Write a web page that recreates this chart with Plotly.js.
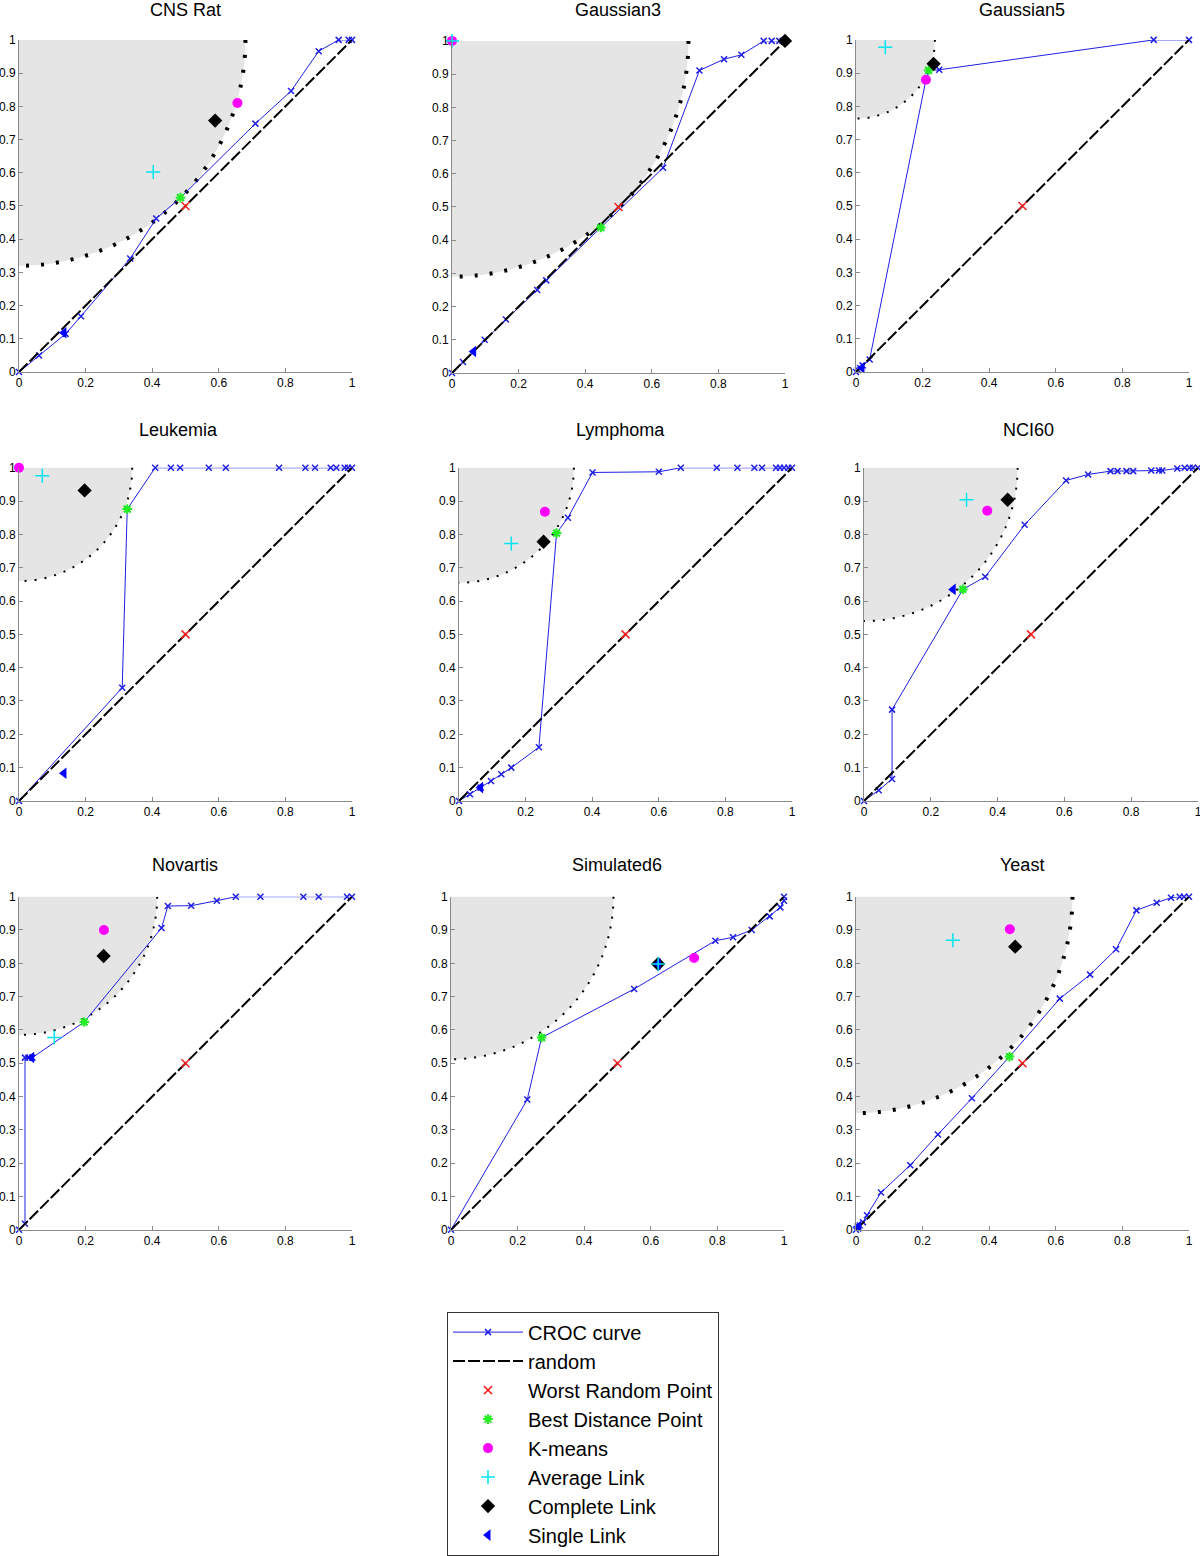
<!DOCTYPE html>
<html>
<head>
<meta charset="utf-8">
<script src="https://cdn.plot.ly/plotly-3.0.1.min.js"></script>
<style>html,body{margin:0;padding:0;background:#fff;}#chart{width:1200px;height:1556px;}</style>
</head>
<body>
<div id="chart"></div>
<script>
// ---- data ----
const titles = ["CNS Rat", "Gaussian3", "Gaussian5", "Leukemia", "Lymphoma", "NCI60", "Novartis", "Simulated6", "Yeast"];

const cnsRatCrocX = [0, 0.06, 0.14, 0.186, 0.334, 0.412, 0.485, 0.71, 0.817, 0.9, 0.96, 0.99, 1];
const cnsRatCrocY = [0, 0.05, 0.115, 0.168, 0.342, 0.462, 0.525, 0.748, 0.846, 0.966, 1, 1, 1];
const gaussian3CrocX = [0, 0.033, 0.098, 0.162, 0.256, 0.283, 0.447, 0.634, 0.743, 0.817, 0.869, 0.936, 0.96, 0.983, 0.993, 1];
const gaussian3CrocY = [0, 0.033, 0.1, 0.161, 0.25, 0.279, 0.438, 0.618, 0.911, 0.945, 0.958, 1, 1, 1, 1, 1];
const gaussian5CrocX = [0, 0.006, 0.012, 0.02, 0.041, 0.21, 0.218, 0.25, 0.894, 1];
const gaussian5CrocY = [0, 0.006, 0.012, 0.02, 0.038, 0.88, 0.908, 0.91, 1, 1];
const leukemiaCrocX = [0, 0.31, 0.325, 0.409, 0.456, 0.484, 0.57, 0.621, 0.781, 0.86, 0.889, 0.936, 0.953, 0.978, 0.988, 1];
const leukemiaCrocY = [0, 0.34, 0.876, 1, 1, 1, 1, 1, 1, 1, 1, 1, 1, 1, 1, 1];
const lymphomaCrocX = [0, 0.033, 0.065, 0.096, 0.127, 0.157, 0.24, 0.293, 0.327, 0.401, 0.6, 0.666, 0.774, 0.836, 0.887, 0.91, 0.952, 0.964, 0.976, 0.989, 1];
const lymphomaCrocY = [0, 0.02, 0.04, 0.06, 0.08, 0.1, 0.161, 0.804, 0.85, 0.986, 0.988, 1, 1, 1, 1, 1, 1, 1, 1, 1, 1];
const nci60CrocX = [0, 0.044, 0.084, 0.084, 0.296, 0.363, 0.481, 0.605, 0.671, 0.738, 0.759, 0.786, 0.806, 0.86, 0.883, 0.893, 0.938, 0.96, 0.975, 0.985, 1];
const nci60CrocY = [0, 0.032, 0.066, 0.274, 0.635, 0.673, 0.829, 0.962, 0.98, 0.99, 0.99, 0.99, 0.99, 0.992, 0.992, 0.992, 0.998, 1, 1, 1, 1];
const novartisCrocX = [0, 0.018, 0.018, 0.028, 0.04, 0.196, 0.428, 0.447, 0.517, 0.594, 0.651, 0.725, 0.854, 0.9, 0.985, 1];
const novartisCrocY = [0, 0.018, 0.517, 0.517, 0.517, 0.624, 0.906, 0.972, 0.973, 0.988, 1, 1, 1, 1, 1, 1];
const simulated6CrocX = [0, 0.229, 0.272, 0.55, 0.794, 0.847, 0.903, 0.957, 0.989, 1, 1];
const simulated6CrocY = [0, 0.391, 0.577, 0.723, 0.868, 0.878, 0.9, 0.941, 0.968, 0.988, 1];
const yeastCrocX = [0, 0.005, 0.011, 0.021, 0.033, 0.075, 0.163, 0.246, 0.348, 0.461, 0.612, 0.703, 0.781, 0.842, 0.903, 0.946, 0.972, 0.985, 1];
const yeastCrocY = [0, 0.01, 0.013, 0.023, 0.044, 0.112, 0.194, 0.286, 0.395, 0.52, 0.694, 0.766, 0.842, 0.959, 0.982, 0.997, 1, 1, 1];

const randomX = [0, 1];
const randomY = [0, 1];
const worstX = [0.5, 0.5, 0.5, 0.5, 0.5, 0.5, 0.5, 0.5, 0.5];
const worstY = [0.5, 0.5, 0.5, 0.5, 0.5, 0.5, 0.5, 0.5, 0.5];
const bestX = [0.485, 0.447, 0.218, 0.325, 0.293, 0.296, 0.196, 0.272, 0.461];
const bestY = [0.525, 0.438, 0.908, 0.876, 0.804, 0.635, 0.624, 0.577, 0.52];
const kmeansX = [0.656, 0, 0.21, 0, 0.258, 0.369, 0.255, 0.73, 0.462];
const kmeansY = [0.81, 1, 0.88, 1, 0.868, 0.871, 0.9, 0.816, 0.902];
const avgLinkX = [0.403, 0, 0.088, 0.07, 0.157, 0.307, 0.106, 0.622, 0.291];
const avgLinkY = [0.602, 1, 0.978, 0.976, 0.773, 0.904, 0.577, 0.798, 0.869];
const completeLinkX = [0.589, 1, 0.233, 0.197, 0.254, 0.43, 0.254, 0.622, 0.478];
const completeLinkY = [0.757, 1, 0.928, 0.932, 0.778, 0.904, 0.822, 0.798, 0.85];
const singleLinkX = [0.135, 0.065, 0.018, 0.135, 0.065, 0.267, 0.038, 0.622, 0.008];
const singleLinkY = [0.118, 0.065, 0.013, 0.083, 0.04, 0.635, 0.517, 0.798, 0.01];
const bestDistanceRadius = [0.68, 0.71, 0.237, 0.34, 0.345, 0.46, 0.415, 0.488, 0.65];

const xTicks = [0, 0.2, 0.4, 0.6, 0.8, 1];
const xTickLabels = ["0", "0.2", "0.4", "0.6", "0.8", "1"];
const yTicks = [0, 0.1, 0.2, 0.3, 0.4, 0.5, 0.6, 0.7, 0.8, 0.9, 1];
const yTickLabels = ["0", "0.1", "0.2", "0.3", "0.4", "0.5", "0.6", "0.7", "0.8", "0.9", "1"];

// ---- layout geometry (pixels) ----
const W = 1200, H = 1556;
const panelBoxes = [
  [19, 352, 40, 373], [452, 785, 41, 374], [856, 1189, 40, 373],
  [19, 352, 469, 803], [459, 792, 469, 803], [864, 1198, 469, 803],
  [19, 352, 899, 1233], [451, 784, 899, 1233], [856, 1189, 899, 1233]
];
const titleCenters = [[185, 10], [618, 10], [1022, 10], [178, 431], [620, 431], [1028, 431], [185, 867], [617, 867], [1022, 867]];
const thickDots = [true, true, false, false, false, false, false, false, true];

const crocX = [cnsRatCrocX, gaussian3CrocX, gaussian5CrocX, leukemiaCrocX, lymphomaCrocX, nci60CrocX, novartisCrocX, simulated6CrocX, yeastCrocX];
const crocY = [cnsRatCrocY, gaussian3CrocY, gaussian5CrocY, leukemiaCrocY, lymphomaCrocY, nci60CrocY, novartisCrocY, simulated6CrocY, yeastCrocY];

const FONT = "Liberation Sans, Arial, sans-serif";
const traces = [];
const layout = {
  width: W, height: H,
  margin: {l: 0, r: 0, t: 0, b: 0},
  paper_bgcolor: "#ffffff", plot_bgcolor: "rgba(0,0,0,0)",
  font: {family: FONT, color: "#000", size: 12},
  showlegend: true,
  legend: {
    x: 447 / W, y: 1 - 1315 / H, xanchor: "left", yanchor: "top",
    bgcolor: "#ffffff", bordercolor: "#333333", borderwidth: 1,
    font: {family: FONT, size: 20, color: "#000"},
    itemwidth: 70, tracegroupgap: 0, traceorder: "normal"
  },
  shapes: [], annotations: []
};

for (let i = 0; i < 9; i++) {
  const n = i === 0 ? "" : String(i + 1);
  const xa = "x" + n, ya = "y" + n;
  const b = panelBoxes[i];
  const axCommon = {
    range: [0, 1], showgrid: false, zeroline: false, showline: true,
    linecolor: "#8a8a8a", linewidth: 1, ticks: "inside", ticklen: 4, tickcolor: "#8a8a8a",
    tickfont: {family: FONT, size: 12, color: "#000"}, fixedrange: true,
    ticklabeloverflow: "allow"
  };
  layout["xaxis" + n] = Object.assign({}, axCommon, {
    domain: [b[0] / W, b[1] / W], anchor: ya,
    tickmode: "array", tickvals: xTicks, ticktext: xTickLabels
  });
  layout["yaxis" + n] = Object.assign({}, axCommon, {
    domain: [1 - b[3] / H, 1 - b[2] / H], anchor: xa,
    tickmode: "array", tickvals: yTicks, ticktext: yTickLabels
  });
  const r = bestDistanceRadius[i];
  layout.shapes.push({
    type: "circle", xref: xa, yref: ya, layer: "below",
    x0: -r, x1: r, y0: 1 - r, y1: 1 + r,
    fillcolor: "#e5e5e5",
    line: thickDots[i] ? {color: "#000", width: 4, dash: "3px,12px"} : {color: "#000", width: 2, dash: "2px,8px"}
  });
  layout.annotations.push({
    xref: "paper", yref: "paper", x: titleCenters[i][0] / W, y: 1 - titleCenters[i][1] / H,
    xanchor: "center", yanchor: "middle", showarrow: false,
    text: titles[i], font: {family: FONT, size: 18, color: "#000"}
  });
  const sl = i === 0;
  traces.push({
    type: "scatter", mode: "lines+markers", x: crocX[i], y: crocY[i], xaxis: xa, yaxis: ya,
    name: "CROC curve", showlegend: sl, legendrank: 1, cliponaxis: false,
    line: {color: "#1f1fe6", width: 1},
    marker: {symbol: "x-thin-open", size: 6, line: {color: "#1f1fe6", width: 1.5}}
  });
  traces.push({
    type: "scatter", mode: "lines", x: randomX, y: randomY, xaxis: xa, yaxis: ya,
    name: "random", showlegend: sl, legendrank: 2, cliponaxis: false,
    line: {color: "#000", width: 2, dash: "12px,3px"}
  });
  traces.push({
    type: "scatter", mode: "markers", x: [worstX[i]], y: [worstY[i]], xaxis: xa, yaxis: ya,
    name: "Worst Random Point", showlegend: sl, legendrank: 3, cliponaxis: false,
    marker: {symbol: "x-thin-open", size: 8, color: "#ff2020", line: {color: "#ff2020", width: 1.5}}
  });
  traces.push({
    type: "scatter", mode: "markers", x: [bestX[i]], y: [bestY[i]], xaxis: xa, yaxis: ya,
    name: "Best Distance Point", showlegend: sl, legendrank: 4, cliponaxis: false,
    marker: {symbol: "asterisk-open", size: 8, color: "#22ee22", line: {color: "#22ee22", width: 2}}
  });
  traces.push({
    type: "scatter", mode: "markers", x: [kmeansX[i]], y: [kmeansY[i]], xaxis: xa, yaxis: ya,
    name: "K-means", showlegend: sl, legendrank: 5, cliponaxis: false,
    marker: {symbol: "circle", size: 10, color: "#ff00ff"}
  });
  traces.push({
    type: "scatter", mode: "markers", x: [completeLinkX[i]], y: [completeLinkY[i]], xaxis: xa, yaxis: ya,
    name: "Complete Link", showlegend: sl, legendrank: 7, cliponaxis: false,
    marker: {symbol: "diamond", size: 11, color: "#000"}
  });
  traces.push({
    type: "scatter", mode: "markers", x: [singleLinkX[i]], y: [singleLinkY[i]], xaxis: xa, yaxis: ya,
    name: "Single Link", showlegend: sl, legendrank: 8, cliponaxis: false,
    marker: {symbol: "triangle-left", size: 10, color: "#0000ff"}
  });
  traces.push({
    type: "scatter", mode: "markers", x: [avgLinkX[i]], y: [avgLinkY[i]], xaxis: xa, yaxis: ya,
    name: "Average Link", showlegend: sl, legendrank: 6, cliponaxis: false,
    marker: {symbol: "cross-thin-open", size: 10, color: "#00e5ee", line: {color: "#00e5ee", width: 1.5}}
  });
}

Plotly.newPlot("chart", traces, layout, {staticPlot: true, displayModeBar: false});
</script>
</body>
</html>
